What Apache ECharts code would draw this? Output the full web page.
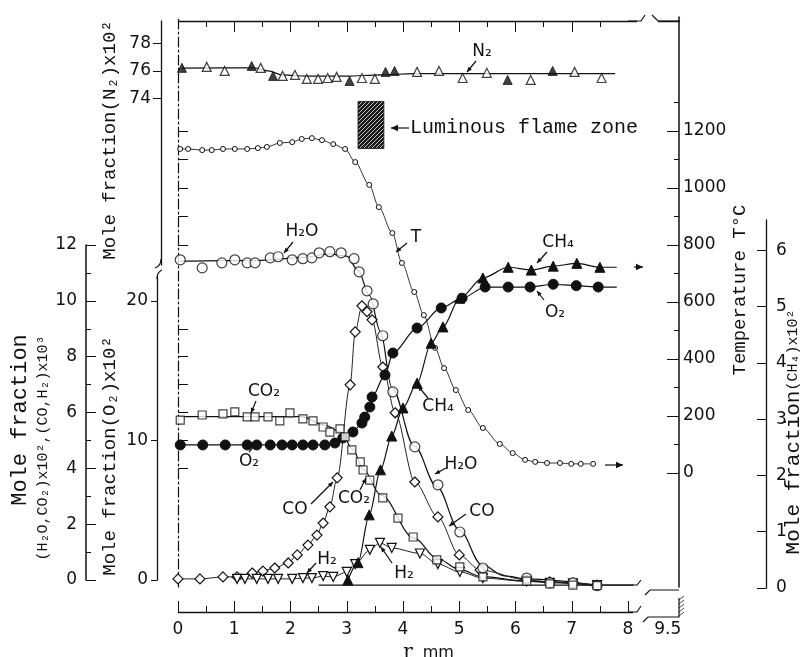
<!DOCTYPE html>
<html><head><meta charset="utf-8">
<script src="https://cdn.jsdelivr.net/npm/echarts@6/dist/echarts.min.js"></script>
<style>html,body{margin:0;padding:0;background:#fff}#c{width:803px;height:657px}</style>
</head><body><div id="c"></div>
<script>
// ---------------- data ----------------
const xMajorTicks = [0,1,2,3,4,5,6,7,8];
const xTickLabels = [0,1,2,3,4,5,6,7,8,9.5];
const xMinorTicks = [0.5,1.5,2.5,3.5,4.5,5.5,6.5,7.5];
const topMajorTicks = [1,2,3,4,5,6,7];
const tTickLabels = [0,200,400,600,800,1000,1200];
const tMinorTicks = [100,300,500,700,900,1100,1300];
const tFrameTicks = [900,1000,1100,1200];
const n2TickLabels = [74,76,78];
const outerTickLabels = [0,2,4,6,8,10,12];
const outerMinorTicks = [1,3,5,7,9,11];
const frameTicksLower = [4,5,6,7,8,9,12];
const o2TickLabels = [0,10,20];
const ch4TickLabels = [0,1,2,3,4,5,6];

// N2 mole fraction x10^2  [r mm, value]
const n2Open = [[0.51,76.29],[0.83,76.0],[1.47,76.22],[1.86,75.64],[2.08,75.71],[2.29,75.42],[2.49,75.42],[2.66,75.49],[2.82,75.57],[3.27,75.49],[3.5,75.42],[4.25,75.93],[4.64,76.0],[5.06,75.49],[5.49,75.86],[6.27,75.35],[7.05,75.93],[7.53,75.49]];
const n2Filled = [[0.07,76.22],[1.31,76.36],[1.69,75.64],[3.05,75.28],[3.69,75.93],[3.85,76.0],[5.86,75.35],[6.66,76.0]];
const n2Curve = [[0.07,76.2],[1.35,76.22],[1.6,76.0],[1.85,75.72],[2.3,75.62],[3.0,75.62],[3.6,75.72],[4.2,75.8],[7.77,75.8]];
// Temperature, deg C
const tempData = [[0.04,1137],[0.18,1137],[0.43,1133],[0.6,1133],[0.8,1137],[1.01,1137],[1.23,1137],[1.42,1140],[1.58,1144],[1.81,1158],[2.03,1161],[2.2,1172],[2.38,1175],[2.56,1168],[2.76,1154],[2.97,1137],[3.15,1091],[3.4,1011],[3.57,933],[3.81,842],[3.98,737],[4.2,635],[4.37,554],[4.57,439],[4.73,368],[4.94,291],[5.16,221],[5.42,158],[5.72,102],[5.95,70],[6.17,46],[6.35,39],[6.56,35],[6.79,35],[6.99,32],[7.16,32],[7.38,32]];
// H2O x10^2
const h2oPoints = [[0.04,11.47],[0.43,11.18],[0.78,11.36],[1.01,11.47],[1.23,11.36],[1.37,11.36],[1.64,11.54],[1.78,11.58],[2.03,11.47],[2.22,11.51],[2.38,11.54],[2.51,11.72],[2.7,11.76],[2.9,11.72],[3.13,11.51],[3.22,11.04],[3.36,10.36],[3.47,9.89],[3.64,8.75],[3.82,6.74],[4.21,4.77],[4.62,3.41],[5.01,1.72],[5.42,0.43],[6.2,0.07],[6.61,-0.1],[7.02,-0.1],[7.45,-0.2]];
const h2oCurve = [[0.04,11.42],[1.5,11.45],[2.2,11.55],[2.7,11.68],[3.0,11.6],[3.2,11.1],[3.4,10.2],[3.6,8.9],[3.8,6.9],[4.2,4.8],[4.6,3.35],[5.0,1.8],[5.4,0.55],[5.8,0.15],[6.2,0.04],[7.45,-0.2]];
// CO2 x10^2
const co2Points = [[0.04,5.73],[0.43,5.91],[0.8,5.95],[1.01,6.02],[1.23,5.84],[1.37,5.84],[1.6,5.84],[1.81,5.7],[1.99,5.99],[2.22,5.77],[2.4,5.7],[2.58,5.48],[2.7,5.3],[2.88,5.41],[2.97,5.13],[3.09,4.66],[3.24,4.23],[3.29,3.94],[3.41,3.58],[3.64,2.94],[3.91,2.22],[4.18,1.54],[4.6,0.72],[5.01,0.47],[5.42,0.11],[6.2,-0.04],[6.61,-0.14],[7.02,-0.18],[7.45,-0.2]];
const co2Curve = [[0.04,5.85],[2.2,5.85],[2.6,5.55],[2.9,5.3],[3.1,4.7],[3.3,3.95],[3.6,3.05],[4.2,1.5],[4.6,0.78],[5.0,0.38],[5.4,0.12],[6.2,-0.04],[7.45,-0.2]];
// CO x10^3
const coData = [[0.0,0.04],[0.39,0.04],[0.8,0.11],[1.05,0.11],[1.32,0.25],[1.51,0.32],[1.72,0.43],[1.96,0.61],[2.12,0.9],[2.31,1.25],[2.47,1.61],[2.58,2.04],[2.7,2.62],[2.83,3.66],[3.06,6.99],[3.15,8.89],[3.27,9.82],[3.36,9.61],[3.45,9.32],[3.64,7.63],[3.86,5.99],[4.21,3.51],[4.62,2.26],[5.0,0.9],[5.37,0.36],[6.2,0.0],[6.61,-0.07],[7.02,-0.1],[7.45,-0.18]];
// H2 x10^3
const h2Data = [[1.05,0.04],[1.19,0.04],[1.4,0.04],[1.6,0.04],[1.78,0.04],[2.03,0.04],[2.22,0.07],[2.38,0.07],[2.58,0.14],[2.76,0.11],[3.0,0.29],[3.15,0.57],[3.41,1.08],[3.59,1.33],[3.8,1.15],[4.3,0.95],[4.62,0.57],[5.01,0.29],[5.42,0.07],[6.2,-0.05],[6.61,-0.1],[7.02,-0.12],[7.45,-0.18]];
// O2 x10^2
const o2Data = [[0.04,9.68],[0.44,9.68],[0.84,9.68],[1.23,9.68],[1.4,9.68],[1.64,9.68],[1.85,9.68],[2.03,9.68],[2.22,9.68],[2.4,9.68],[2.61,9.68],[2.79,9.82],[2.93,10.18],[3.11,10.61],[3.27,11.25],[3.32,11.68],[3.41,12.4],[3.45,13.12],[3.68,14.7],[3.82,16.27],[4.25,18.06],[4.68,19.5],[5.05,20.2],[5.46,21.0],[5.87,21.0],[6.26,21.0],[6.67,21.2],[7.08,21.1],[7.47,21.0]];
const o2Tail = [7.8,21.0];
// CH4 x10^2
const ch4Data = [[3.02,0.14],[3.2,0.45],[3.4,1.3],[3.6,2.1],[3.8,2.7],[4.0,3.2],[4.25,3.64],[4.5,4.35],[4.71,4.64],[5.01,5.15],[5.42,5.51],[5.87,5.7],[6.28,5.65],[6.67,5.72],[7.09,5.77],[7.5,5.7]];
const ch4Tail = [7.8,5.7];
const zeroLine = [[2.5,0.05],[8.1,0.05]];
const flameZone = [[3.2,73.8],[3.66,70.4]]; // r range, N2-scale span

// ---------------- chart ----------------
const BLACK = '#111';
const chart = echarts.init(document.getElementById('c'), null, {width:803, height:657});
const L = 178, W = 501;
const xBreaks = [{start:8.15, end:9.3, gap:'4%'}];
const lab = {fontFamily:'DejaVu Sans', fontSize:17, color:BLACK, formatter:v=>String(v)};

function xAx(grid, o){
  return Object.assign({type:'value', gridIndex:grid, min:0, max:9.7,
    breaks: xBreaks.map(b=>Object.assign({},b)), breakArea:{show:false},
    splitLine:{show:false}, axisLine:{show:false, onZero:false}, axisTick:{show:false}, axisLabel:{show:false}}, o);
}
function yAx(grid, o){
  return Object.assign({type:'value', gridIndex:grid, splitLine:{show:false},
    axisLine:{show:false, onZero:false}, axisTick:{show:false}, axisLabel:{show:false}}, o);
}
const line = (w)=>({show:true, onZero:false, lineStyle:{color:BLACK, width:w||1.3}});

const pat = document.createElement('canvas'); pat.width=4; pat.height=4;
(function(){const g=pat.getContext('2d'); g.fillStyle='#1c1c1c'; g.fillRect(0,0,4,4);
 g.strokeStyle='#fff'; g.lineWidth=0.7; g.beginPath(); g.moveTo(0,4); g.lineTo(4,0); g.stroke();})();

const grids = [
  {left:L, top:21, width:W, height:244},   // 0 N2
  {left:L, top:17, width:W, height:570},   // 1 Temperature
  {left:L, top:245, width:W, height:335},  // 2 H2O, CO2, CO, H2
  {left:L, top:277, width:W, height:303},  // 3 O2
  {left:L, top:220, width:W, height:368}   // 4 CH4
].map(g=>Object.assign(g,{outerBoundsMode:'none', containLabel:false}));

const xAxes = [
  xAx(0,{position:'top', axisLine:line(1.3), axisTick:{show:true, inside:true, length:11, customValues:topMajorTicks, lineStyle:{color:BLACK}}}),
  xAx(0,{position:'top', axisTick:{show:true, inside:true, length:6, customValues:xMinorTicks, lineStyle:{color:BLACK}}}),
  xAx(1,{position:'bottom', offset:25, axisLine:line(1.3),
    axisTick:{show:true, inside:true, length:11, customValues:xMajorTicks, lineStyle:{color:BLACK}},
    axisLabel:Object.assign({show:true, customValues:xTickLabels, margin:9}, lab),
    name:'{a|r}   {b|mm}', nameLocation:'middle', nameGap:30,
    nameTextStyle:{rich:{a:{fontFamily:'DejaVu Serif', fontSize:20, color:BLACK}, b:{fontFamily:'DejaVu Sans', fontSize:16, color:BLACK}}}}),
  xAx(1,{position:'bottom', offset:25, axisTick:{show:true, inside:true, length:6, customValues:xMinorTicks, lineStyle:{color:BLACK}}}),
  xAx(2,{}), xAx(3,{}), xAx(4,{})
];

const yAxes = [
  yAx(0,{position:'left', offset:17, min:62, max:79.6, axisLine:line(1.3),
    axisTick:{show:true, length:8, customValues:n2TickLabels, lineStyle:{color:BLACK}},
    axisLabel:Object.assign({show:true, customValues:n2TickLabels, margin:10}, lab)}),
  yAx(1,{position:'right', min:-400, max:1600, axisLine:line(1.5),
    axisTick:{show:true, inside:true, length:12, customValues:tTickLabels, lineStyle:{color:BLACK}},
    axisLabel:Object.assign({show:true, customValues:tTickLabels, margin:4}, lab)}),
  yAx(1,{position:'right', min:-400, max:1600,
    axisTick:{show:true, inside:true, length:5, customValues:tMinorTicks, lineStyle:{color:BLACK}}}),
  yAx(1,{position:'left', min:-400, max:1600, axisLine:{show:true, onZero:false, lineStyle:{color:BLACK, width:1.2, type:[10,3,2,3]}},
    axisTick:{show:true, inside:true, length:10, customValues:tFrameTicks, lineStyle:{color:BLACK}}}),
  yAx(2,{position:'left', offset:92, min:0, max:12, axisLine:line(1.5),
    axisTick:{show:true, inside:true, length:10, customValues:outerTickLabels, lineStyle:{color:BLACK}},
    axisLabel:Object.assign({show:true, customValues:outerTickLabels, margin:9}, lab)}),
  yAx(2,{position:'left', offset:92, min:0, max:12,
    axisTick:{show:true, inside:true, length:5, customValues:outerMinorTicks, lineStyle:{color:BLACK}}}),
  yAx(2,{position:'left', min:0, max:12,
    axisTick:{show:true, inside:true, length:10, customValues:frameTicksLower, lineStyle:{color:BLACK}}}),
  yAx(3,{position:'left', offset:21, min:0, max:21.72, axisLine:line(1.3),
    axisTick:{show:true, length:6, customValues:o2TickLabels, lineStyle:{color:BLACK}},
    axisLabel:Object.assign({show:true, customValues:o2TickLabels, margin:9}, lab)}),
  yAx(4,{position:'right', offset:87, min:0, max:6.54, axisLine:line(1.3),
    axisTick:{show:true, inside:true, length:9, customValues:ch4TickLabels, lineStyle:{color:BLACK}},
    axisLabel:Object.assign({show:true, customValues:ch4TickLabels, margin:10}, lab)})
];

const openM = {color:'#fff', borderColor:BLACK, borderWidth:1.2};
const fillM = {color:BLACK, borderColor:BLACK, borderWidth:1};
function curve(data, xi, yi, o){
  return Object.assign({type:'line', xAxisIndex:xi, yAxisIndex:yi, data, showSymbol:false, symbol:'none',
    smooth:0.35, smoothMonotone:'x', clip:false, lineStyle:{color:BLACK, width:1.2}, emphasis:{disabled:true}, silent:true}, o);
}
function marks(data, xi, yi, sym, size, style, o){
  return Object.assign({type:'scatter', xAxisIndex:xi, yAxisIndex:yi, data, symbol:sym, symbolSize:size,
    itemStyle:style, clip:false, emphasis:{disabled:true}, silent:true, z:5}, o);
}
function lineMarks(data, xi, yi, sym, size, style, o){
  return Object.assign({type:'line', xAxisIndex:xi, yAxisIndex:yi, data, symbol:sym, symbolSize:size, showSymbol:true,
    itemStyle:style, smooth:0.3, smoothMonotone:'x', clip:false, lineStyle:{color:BLACK, width:1.2},
    emphasis:{disabled:true}, silent:true, z:4}, o);
}
const withTail = (arr, tail)=> arr.concat([{value:tail, symbol:'none'}]);

const series = [
  curve(n2Curve, 0, 0, {markArea:{silent:true, itemStyle:{color:{image:pat, repeat:'repeat'}, borderColor:BLACK, borderWidth:0.8},
    data:[[{coord:flameZone[0]},{coord:flameZone[1]}]]}}),
  marks(n2Open, 0, 0, 'triangle', 9, openM),
  marks(n2Filled, 0, 0, 'triangle', 9, fillM),
  lineMarks(tempData, 2, 1, 'circle', 5, {color:'#fff', borderColor:BLACK, borderWidth:1}, {lineStyle:{color:'#333', width:1}}),
  curve(h2oCurve, 4, 4),
  marks(h2oPoints, 4, 4, 'circle', 10, openM),
  curve(co2Curve, 4, 4),
  marks(co2Points, 4, 4, 'rect', 8, openM),
  lineMarks(coData, 4, 4, 'diamond', 10, openM, {lineStyle:{color:'#222', width:1}}),
  lineMarks(h2Data, 4, 4, 'triangle', 9, openM, {symbolRotate:180, lineStyle:{color:'#222', width:1}}),
  lineMarks(withTail(o2Data,o2Tail), 5, 7, 'circle', 10, fillM),
  lineMarks(withTail(ch4Data,ch4Tail), 6, 8, 'triangle', 10, fillM),
  curve(zeroLine, 6, 8, {smooth:false})
];

// ---------------- annotations ----------------
const G = [];
const F = '17px "DejaVu Sans"';
function txt(t, x, y, font, o){
  G.push(Object.assign({type:'text', x, y, z:100, style:{text:t, x:0, y:0, font:font||F, fill:BLACK,
    align:'center', verticalAlign:'middle', textAlign:'center', textVerticalAlign:'middle'}}, o||{}));
}
function seg(x1,y1,x2,y2,w){ G.push({type:'line', z:100, shape:{x1,y1,x2,y2}, style:{stroke:BLACK, lineWidth:w||1.2}}); }
function poly(pts, w){ G.push({type:'polyline', z:100, shape:{points:pts}, style:{stroke:BLACK, lineWidth:w||1.2, fill:null}}); }
function arrow(x1,y1,x2,y2,h){
  h = h||6; seg(x1,y1,x2,y2,1.2);
  const a = Math.atan2(y2-y1, x2-x1), c=Math.cos(a), s=Math.sin(a), k=0.45;
  G.push({type:'polygon', z:100, shape:{points:[[x2,y2],[x2-h*c+h*k*s, y2-h*s-h*k*c],[x2-h*c-h*k*s, y2-h*s+h*k*c]]}, style:{fill:BLACK}});
}
function white(x,y,w,h){ G.push({type:'rect', z:90, shape:{x,y,width:w,height:h}, style:{fill:'#fff'}}); }

[['N₂',482,52],['H₂O',302,232],['T',416,238],['CH₄',558,243],['O₂',555,313],['CO₂',264,392],['O₂',249,462],
 ['CO',295,510],['CO₂',354,499],['CH₄',438,407],['H₂O',461,465],['CO',482,512],['H₂',327,560],['H₂',404,574]]
 .forEach(a=>txt(a[0],a[1],a[2]));
[[476,61,467,72],[293,242,284,253],[407,243,396,252],[547,252,537,263],[544,300,537,291],[256,401,251,413],
 [249,452,257,443],[311,504,333,482],[360,490,366,478],[428,398,418,386],[446,468,435,474],[466,514,449,526],
 [316,563,307,573],[392,563,381,547]].forEach(a=>arrow(a[0],a[1],a[2],a[3],5));

txt('Luminous flame zone', 410, 128, '20px "Liberation Mono"', {style:{text:'Luminous flame zone', x:0, y:0,
  font:'20px "Liberation Mono"', fill:BLACK, align:'left', verticalAlign:'middle', textAlign:'left', textVerticalAlign:'middle'}});
arrow(409,128,391,128,7);
arrow(605,465,623,465,7);
arrow(634,267,643,267,7);

// axis titles (vertical)
const MONO = '"Liberation Mono"';
txt('Mole fraction(N₂)x10²', 110, 140, '19px '+MONO, {rotation:Math.PI/2});
txt('Mole fraction(O₂)x10²', 110, 456, '19px '+MONO, {rotation:Math.PI/2});
txt('Mole fraction', 20, 420, '22px '+MONO, {rotation:Math.PI/2});
txt('(H₂O,CO₂)x10²,(CO,H₂)x10³', 43, 448, '15px '+MONO, {rotation:Math.PI/2});
txt('Temperature T°C', 740, 290, '19px '+MONO, {rotation:Math.PI/2});
G.push({type:'text', x:793, y:432, rotation:Math.PI/2, z:100, style:{text:'{a|Mole fraction}{b|(CH₄)x10²}', x:0, y:0,
  align:'center', verticalAlign:'middle', textAlign:'center', textVerticalAlign:'middle',
  rich:{a:{font:'21px '+MONO, fill:BLACK, color:BLACK}, b:{font:'15px '+MONO, fill:BLACK, color:BLACK}}}});

// axis break marks
white(638,15,20,12); poly([[628,21],[641,21],[645,15]]); poly([[652,15],[658,21],[679,21]]);
white(633,606,47,10); poly([[628,612],[637,612],[641,606]]); poly([[643,622],[648,617],[679,617],[679,598]]);
for(let i=0;i<5;i++) seg(679,600+i*4,684,596+i*4,0.8);
poly([[603,585],[637,585],[641,580]]); poly([[645,595],[650,590],[679,590]]);
// curly break between N2 and O2 axes
G.push({type:'bezierCurve', z:100, shape:{x1:161,y1:259,x2:155,y2:268,cpx1:161,cpy1:266}, style:{stroke:BLACK, lineWidth:1.2, fill:null}});
G.push({type:'bezierCurve', z:100, shape:{x1:157,y1:279,x2:162,y2:270,cpx1:157,cpy1:272}, style:{stroke:BLACK, lineWidth:1.2, fill:null}});

chart.setOption({animation:false, backgroundColor:'#fff', grid:grids, xAxis:xAxes, yAxis:yAxes, series, graphic:{elements:G}});
</script></body></html>
